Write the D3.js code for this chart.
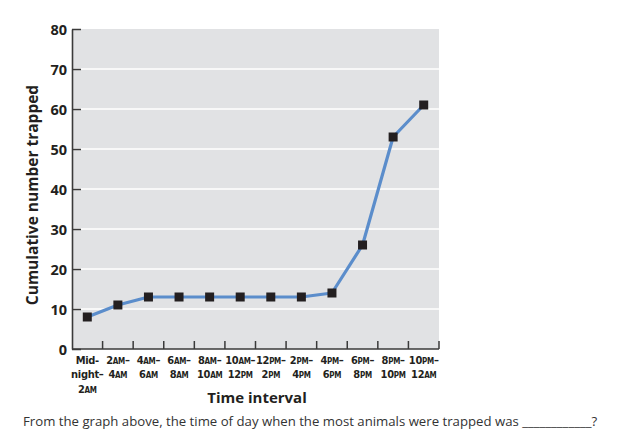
<!DOCTYPE html>
<html><head><meta charset="utf-8">
<script src="https://cdn.jsdelivr.net/npm/d3@7"></script>
<style>
body{margin:0;background:#fff;}
svg{display:block;}
</style></head>
<body>
<svg id="c" width="631" height="437"></svg>
<script>
const categories = ["Mid-night–2AM","2AM–4AM","4AM–6AM","6AM–8AM","8AM–10AM","10AM–12PM","12PM–2PM","2PM–4PM","4PM–6PM","6PM–8PM","8PM–10PM","10PM–12AM"];
const tickLines = [
  ["Mid-","night–","2|AM"],
  ["2|AM|–","4|AM"],
  ["4|AM|–","6|AM"],
  ["6|AM|–","8|AM"],
  ["8|AM|–","10|AM"],
  ["10|AM|–","12|PM"],
  ["12|PM|–","2|PM"],
  ["2|PM|–","4|PM"],
  ["4|PM|–","6|PM"],
  ["6|PM|–","8|PM"],
  ["8|PM|–","10|PM"],
  ["10|PM|–","12|AM"]
];
const values = [8, 11, 13, 13, 13, 13, 13, 13, 14, 26, 53, 61];
const yTicks = [0, 10, 20, 30, 40, 50, 60, 70, 80];

const svg = d3.select("#c");
const L = 72, R = 439, T = 29, B = 349;
const x = d3.scaleBand().domain(categories).range([L, R]).padding(0);
const y = d3.scaleLinear().domain([0, 80]).range([B, T]);

svg.append("rect").attr("x", L).attr("y", T).attr("width", R - L).attr("height", B - T).attr("fill", "#e1e2e4");

svg.append("g").selectAll("line").data(yTicks.filter(d => d > 0 && d < 80)).join("line")
  .attr("x1", L).attr("x2", R).attr("y1", d => y(d)).attr("y2", d => y(d))
  .attr("stroke", "#fff").attr("stroke-width", 1.5);

const yAxis = d3.axisLeft(y).tickValues(yTicks).tickSizeInner(-9).tickSizeOuter(0).tickPadding(6);
const gy = svg.append("g").attr("transform", `translate(${L},0)`).call(yAxis);
gy.select(".domain").attr("stroke", "#3a3a3a").attr("stroke-width", 1.6);
gy.selectAll(".tick line").attr("stroke", "#3a3a3a").attr("stroke-width", 1.5);
gy.selectAll(".tick text").attr("x", -5).attr("font-family", "'Open Sans', sans-serif").attr("font-weight", "bold")
  .attr("font-size", 14.5).attr("fill", "#231f20").attr("dy", "0.35em");

const boundaries = categories.slice(1).map(c => x(c)).concat([R]);
const gx = svg.append("g");
gx.append("line").attr("x1", L).attr("x2", R).attr("y1", B).attr("y2", B).attr("stroke", "#3a3a3a").attr("stroke-width", 1.6);
gx.selectAll("line.t").data(boundaries).join("line").attr("class", "t")
  .attr("x1", d => d).attr("x2", d => d).attr("y1", B).attr("y2", B - 8)
  .attr("stroke", "#3a3a3a").attr("stroke-width", 1.5);

const lab = svg.append("g").attr("font-family", "'Liberation Sans Narrow','DejaVu Sans Condensed',sans-serif")
  .attr("font-weight", "bold").attr("fill", "#231f20").attr("text-anchor", "middle");
categories.forEach((c, i) => {
  const cx = x(c) + x.bandwidth() / 2;
  tickLines[i].forEach((ln, j) => {
    const t = lab.append("text").attr("x", cx).attr("y", 364 + j * 14.3).attr("font-size", 11)
      .attr("letter-spacing", -0.3);
    ln.split("|").forEach(part => {
      const small = part === "AM" || part === "PM";
      t.append("tspan").attr("font-size", small ? 8 : 11).text(part);
    });
  });
});

const line = d3.line().x((d, i) => x(categories[i]) + x.bandwidth() / 2).y(d => y(d));
svg.append("path").datum(values).attr("d", line).attr("fill", "none")
  .attr("stroke", "#5b8dcb").attr("stroke-width", 3.2).attr("stroke-linejoin", "round");

const ms = 9;
svg.append("g").selectAll("rect").data(values).join("rect")
  .attr("x", (d, i) => x(categories[i]) + x.bandwidth() / 2 - ms / 2)
  .attr("y", d => y(d) - ms / 2).attr("width", ms).attr("height", ms).attr("fill", "#231f20");

svg.append("text").attr("transform", `translate(38,195) rotate(-90)`).attr("text-anchor", "middle")
  .attr("font-family", "'Open Sans', sans-serif").attr("font-weight", "bold").attr("font-size", 15.5)
  .attr("fill", "#231f20").text("Cumulative number trapped");
svg.append("text").attr("x", 257).attr("y", 403).attr("text-anchor", "middle")
  .attr("font-family", "'Open Sans', sans-serif").attr("font-weight", "bold").attr("font-size", 15)
  .attr("fill", "#231f20").text("Time interval");

svg.append("text").attr("x", 23).attr("y", 426)
  .attr("font-family", "'Open Sans', sans-serif").attr("font-size", 13.2)
  .attr("fill", "#333").text("From the graph above, the time of day when the most animals were trapped was ____________?");
</script>
</body></html>
